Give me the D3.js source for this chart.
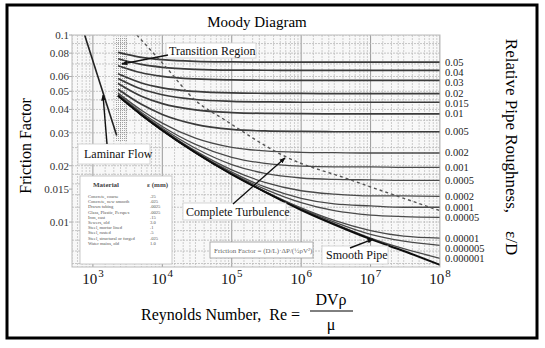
<!DOCTYPE html>
<html><head><meta charset="utf-8">
<script src="https://cdn.jsdelivr.net/npm/d3@7"></script>
<style>
html,body{margin:0;padding:0;background:#fff;}
svg, svg text{font-family:"Liberation Serif","Times New Roman",serif;}
</style></head><body>
<svg id="chart" width="545" height="348" font-family="Liberation Serif, Times New Roman, serif"></svg>
<script>
// Reynolds numbers at which each friction-factor curve is sampled
const reynolds = [2300, 5000, 1e4, 3e4, 1e5, 3e5, 1e6, 3e6, 1e7, 3e7, 1e8];

// Friction factor per relative roughness, at the Reynolds numbers above
const f_0_05     = [0.0807, 0.0759, 0.0738, 0.0723, 0.0718, 0.0716, 0.0716, 0.0716, 0.0716, 0.0716, 0.0716];
const f_0_04     = [0.0747, 0.0696, 0.0672, 0.0655, 0.0649, 0.0648, 0.0647, 0.0647, 0.0647, 0.0647, 0.0647];
const f_0_03     = [0.0685, 0.0628, 0.0601, 0.0582, 0.0575, 0.0573, 0.0572, 0.0572, 0.0572, 0.0572, 0.0572];
const f_0_02     = [0.0620, 0.0554, 0.0522, 0.0499, 0.0490, 0.0488, 0.0487, 0.0486, 0.0486, 0.0486, 0.0486];
const f_0_015    = [0.0586, 0.0514, 0.0479, 0.0452, 0.0442, 0.0439, 0.0437, 0.0437, 0.0437, 0.0437, 0.0437];
const f_0_01     = [0.0551, 0.0471, 0.0430, 0.0398, 0.0385, 0.0381, 0.0380, 0.0379, 0.0379, 0.0379, 0.0379];
const f_0_005    = [0.0513, 0.0426, 0.0376, 0.0333, 0.0313, 0.0307, 0.0305, 0.0304, 0.0304, 0.0304, 0.0304];
const f_0_002    = [0.0489, 0.0396, 0.0338, 0.0281, 0.0251, 0.0240, 0.0236, 0.0235, 0.0234, 0.0234, 0.0234];
const f_0_001    = [0.0480, 0.0385, 0.0324, 0.0260, 0.0222, 0.0206, 0.0199, 0.0197, 0.0197, 0.0196, 0.0196];
const f_0_0005   = [0.0477, 0.0379, 0.0317, 0.0248, 0.0203, 0.0182, 0.0172, 0.0169, 0.0168, 0.0167, 0.0167];
const f_0_0002   = [0.0474, 0.0376, 0.0312, 0.0240, 0.0190, 0.0163, 0.0147, 0.0141, 0.0138, 0.0138, 0.0137];
const f_0_0001   = [0.0473, 0.0375, 0.0310, 0.0237, 0.0185, 0.0154, 0.0134, 0.0125, 0.0122, 0.0120, 0.0120];
const f_0_00005  = [0.0473, 0.0374, 0.0309, 0.0236, 0.0182, 0.0150, 0.0127, 0.0115, 0.0109, 0.0107, 0.0106];
const f_0_00001  = [0.0473, 0.0374, 0.0309, 0.0235, 0.0180, 0.0146, 0.0119, 0.0102, 0.0090, 0.0084, 0.0082];
const f_0_000005 = [0.0473, 0.0374, 0.0309, 0.0235, 0.0180, 0.0145, 0.0118, 0.0100, 0.0086, 0.0079, 0.0075];
const f_0_000001 = [0.0473, 0.0374, 0.0309, 0.0235, 0.0180, 0.0145, 0.0117, 0.0098, 0.0082, 0.0072, 0.0064];
const f_smooth   = [0.0473, 0.0374, 0.0309, 0.0235, 0.0180, 0.0145, 0.0116, 0.0097, 0.0081, 0.0070, 0.0059];

const roughLabels = ["0.05","0.04","0.03","0.02","0.015","0.01","0.005","0.002","0.001",
                     "0.0005","0.0002","0.0001","0.00005","0.00001","0.000005","0.000001"];

// Laminar line, f = 64/Re
const laminarRe = [760, 2200];
const laminarF  = [0.1, 0.029];

// Boundary of complete turbulence (dashed)
const turbRe = [4300, 10900, 29600, 80000, 6.05e5, 4.7e6, 1e8];
const turbF  = [0.1, 0.0683, 0.0449, 0.0351, 0.0223, 0.0170, 0.0115];

// Transition (critical) zone
const transRe = [2100, 3200];
const transF  = [0.098, 0.027];

// Axis ticks
const fTicks  = [0.1, 0.08, 0.06, 0.05, 0.04, 0.03, 0.02, 0.015, 0.01];
const reTicks = [1e3, 1e4, 1e5, 1e6, 1e7, 1e8];
const fGrid   = [0.006,0.007,0.008,0.009,0.01,0.012,0.014,0.016,0.018,0.02,0.025,0.03,
                 0.035,0.04,0.045,0.05,0.06,0.07,0.08,0.09,0.1];

// Pipe material table
const materials = ["Concrete, coarse","Concrete, new smooth","Drawn tubing","Glass, Plastic, Perspex",
                   "Iron, cast","Sewers, old","Steel, mortar lined","Steel, rusted",
                   "Steel, structural or forged","Water mains, old"];
const materialEps = [".25",".025",".0025",".0025",".15","3.0",".1",".5",".025","1.0"];

const series = [f_0_05,f_0_04,f_0_03,f_0_02,f_0_015,f_0_01,f_0_005,f_0_002,f_0_001,
                f_0_0005,f_0_0002,f_0_0001,f_0_00005,f_0_00001,f_0_000005,f_0_000001]
  .map((f,i)=>({label:roughLabels[i], f}));

const svg = d3.select("#chart");
const L = 72, R = 440, T = 35, B = 267;
const x = d3.scaleLog().domain([500, 1e8]).range([L, R]);
const y = d3.scaleLog().domain([0.1, 0.00575]).range([T, B]);

const defs = svg.append("defs");
defs.append("clipPath").attr("id","plotClip").append("rect")
  .attr("x",L).attr("y",T).attr("width",R-L).attr("height",B-T);
defs.append("marker").attr("id","arrow").attr("viewBox","0 0 10 10")
  .attr("refX",9).attr("refY",5).attr("markerWidth",6).attr("markerHeight",6)
  .attr("markerUnits","userSpaceOnUse").attr("orient","auto")
  .append("path").attr("d","M0,1L10,5L0,9Z").attr("fill","#111");
const pat = defs.append("pattern").attr("id","stipple").attr("width",2).attr("height",2)
  .attr("patternUnits","userSpaceOnUse");
pat.append("rect").attr("width",1).attr("height",1).attr("fill","#8a8a8a");
defs.append("filter").attr("id","soft").append("feGaussianBlur").attr("stdDeviation",0.35);

// Outer frame
svg.append("rect").attr("x",7).attr("y",5).attr("width",530).attr("height",333)
  .attr("fill","#fff").attr("stroke","#000").attr("stroke-width",3);

// Title
svg.append("text").attr("x",257).attr("y",27).attr("text-anchor","middle")
  .attr("font-size",15).text("Moody Diagram");

const plot = svg.append("g").attr("clip-path","url(#plotClip)").attr("filter","url(#soft)");
plot.append("rect").attr("x",L).attr("y",T).attr("width",R-L).attr("height",B-T).attr("fill","#f8f8f8");

// Log grid
const xGrid = [];
for (let e = 2; e <= 7; e++)
  for (const m of [1,1.5,2,2.5,3,4,5,6,7,8,9]) {
    const v = m * Math.pow(10, e);
    if (v >= 500 && v <= 1e8) xGrid.push({v, major: m === 1});
  }
xGrid.push({v:1e8, major:true});
plot.selectAll(".gx").data(xGrid).join("line")
  .attr("x1",d=>x(d.v)).attr("x2",d=>x(d.v)).attr("y1",T).attr("y2",B)
  .attr("stroke",d=>d.major?"#999":"#c2c2c2").attr("stroke-width",d=>d.major?1:0.8)
  .attr("stroke-dasharray",d=>d.major?null:"2,1");
plot.selectAll(".gy").data(fGrid).join("line")
  .attr("x1",L).attr("x2",R).attr("y1",d=>y(d)).attr("y2",d=>y(d))
  .attr("stroke","#b8b8b8").attr("stroke-width",0.8).attr("stroke-dasharray","2,1");

// Transition zone
plot.append("rect").attr("x",x(transRe[0])).attr("width",x(transRe[1])-x(transRe[0]))
  .attr("y",y(transF[0])).attr("height",y(transF[1])-y(transF[0]))
  .attr("fill","url(#stipple)").attr("opacity",0.8);

// Roughness curves
const line = d3.line().x((d,i)=>x(reynolds[i])).y(d=>y(d)).curve(d3.curveMonotoneX);
plot.selectAll(".curve").data(series).join("path")
  .attr("d",d=>line(d.f)).attr("fill","none")
  .attr("stroke",(d,i)=>i<7?"#3a3a3a":"#4a4a4a")
  .attr("stroke-width",(d,i)=>i<7?1.7:1.3);
plot.append("path").attr("d",line(f_smooth)).attr("fill","none")
  .attr("stroke","#111").attr("stroke-width",2);

// Laminar flow
plot.append("path").attr("d",d3.line()(laminarRe.map((r,i)=>[x(r),y(laminarF[i])])))
  .attr("stroke","#222").attr("stroke-width",1.6).attr("fill","none");

// Complete turbulence boundary
plot.append("path")
  .attr("d",d3.line().curve(d3.curveMonotoneX)(turbRe.map((r,i)=>[x(r),y(turbF[i])])))
  .attr("fill","none").attr("stroke","#555").attr("stroke-width",1.4).attr("stroke-dasharray","3,3");

// Plot frame
svg.append("rect").attr("x",L).attr("y",T).attr("width",R-L).attr("height",B-T)
  .attr("fill","none").attr("stroke","#bbb").attr("stroke-width",1);

// Y axis labels and ticks
svg.selectAll(".yt").data(fTicks).join("text")
  .attr("x",69).attr("y",d=>y(d)+4).attr("text-anchor","end")
  .attr("font-size",11).attr("fill","#333").text(d=>d);
svg.selectAll(".ytk").data(fTicks).join("line")
  .attr("x1",L-3).attr("x2",L).attr("y1",d=>y(d)).attr("y2",d=>y(d))
  .attr("stroke","#aaa").attr("stroke-width",1);

// X axis labels (powers of ten)
const xt = svg.selectAll(".xt").data(reTicks).join("text")
  .attr("x",d=>x(d)).attr("y",284).attr("text-anchor","middle").attr("fill","#111");
xt.append("tspan").attr("font-size",15).text("10");
xt.append("tspan").attr("font-size",11).attr("dy",-7).attr("dx",1)
  .text(d=>Math.round(Math.log10(d)));

// Roughness labels at curve ends, nudged apart where they crowd
const labelPos = series.map(d => ({label:d.label, y:y(d.f[d.f.length-1])}));
const gap = 10;
for (let i = 1; i < labelPos.length; i++)
  if (labelPos[i].y - labelPos[i-1].y < gap) labelPos[i].y = labelPos[i-1].y + gap;
svg.selectAll(".rl").data(labelPos).join("text")
  .attr("x",445).attr("y",d=>d.y+3.5)
  .attr("font-size",10.5).attr("fill","#222").text(d=>d.label);

// Axis titles
svg.append("text").attr("transform","translate(31,146) rotate(-90)")
  .attr("text-anchor","middle").attr("font-size",16).text("Friction Factor");
const rt = svg.append("text").attr("transform","translate(506,147) rotate(90)")
  .attr("text-anchor","middle").attr("font-size",17);
rt.append("tspan").text("Relative Pipe Roughness,");
rt.append("tspan").attr("dx",18).text("ε/D");

const xtitle = svg.append("text").attr("x",300).attr("y",320).attr("text-anchor","end")
  .attr("font-size",16);
xtitle.append("tspan").text("Reynolds Number,");
xtitle.append("tspan").attr("dx",8).text("Re =");
svg.append("text").attr("x",331).attr("y",305).attr("text-anchor","middle")
  .attr("font-size",16).text("DVρ");
svg.append("line").attr("x1",310).attr("x2",353).attr("y1",311).attr("y2",311)
  .attr("stroke","#000").attr("stroke-width",1);
svg.append("text").attr("x",331).attr("y",330).attr("text-anchor","middle")
  .attr("font-size",16).text("μ");

// Annotation boxes
function note(txt, bx, by, bw, bh, tx, ty) {
  svg.append("rect").attr("x",bx).attr("y",by).attr("width",bw).attr("height",bh)
    .attr("fill","#fff").attr("stroke","#ccc").attr("stroke-width",0.8);
  svg.append("text").attr("x",tx).attr("y",ty).attr("font-size",12).attr("fill","#111").text(txt);
}
function arrow(x1, y1, re, f) {
  svg.append("line").attr("x1",x1).attr("y1",y1).attr("x2",x(re)).attr("y2",y(f))
    .attr("stroke","#111").attr("stroke-width",1.4).attr("marker-end","url(#arrow)");
}
note("Transition Region", 166, 43, 90, 15, 169, 55);
arrow(168, 55, 2620, 0.070);

// Material table
svg.append("rect").attr("x",80).attr("y",176).attr("width",92).attr("height",88)
  .attr("fill","#fff").attr("stroke","#bbb").attr("stroke-width",0.8);
svg.append("text").attr("x",93).attr("y",187).attr("font-size",7).attr("font-weight","bold")
  .attr("fill","#444").text("Material");
svg.append("text").attr("x",147).attr("y",187).attr("font-size",7).attr("font-weight","bold")
  .attr("fill","#444").text("ε (mm)");
svg.selectAll(".mt").data(materials).join("text")
  .attr("x",88).attr("y",(d,i)=>198+i*5.2).attr("font-size",4.6).attr("fill","#555").text(d=>d);
svg.selectAll(".me").data(materialEps).join("text")
  .attr("x",150).attr("y",(d,i)=>198+i*5.2).attr("font-size",4.6).attr("fill","#555").text(d=>d);

note("Laminar Flow", 78, 144, 72, 20, 84, 158);
arrow(107, 144, 1398, 0.0477);

note("Complete Turbulence", 183, 203, 103, 17, 186, 216);
arrow(233, 204, 5.85e5, 0.0220);

note("Smooth Pipe", 322, 246, 66, 18, 326, 259);
arrow(350, 248, 1.08e7, 0.0081);

// Definition box
svg.append("rect").attr("x",210).attr("y",242).attr("width",103).attr("height",16)
  .attr("fill","#fff").attr("stroke","#999").attr("stroke-width",0.8);
svg.append("text").attr("x",214).attr("y",253).attr("font-size",7).attr("fill","#666")
  .text("Friction Factor  =  (D/L)·ΔP/(½ρV²)");
</script>
</body></html>
